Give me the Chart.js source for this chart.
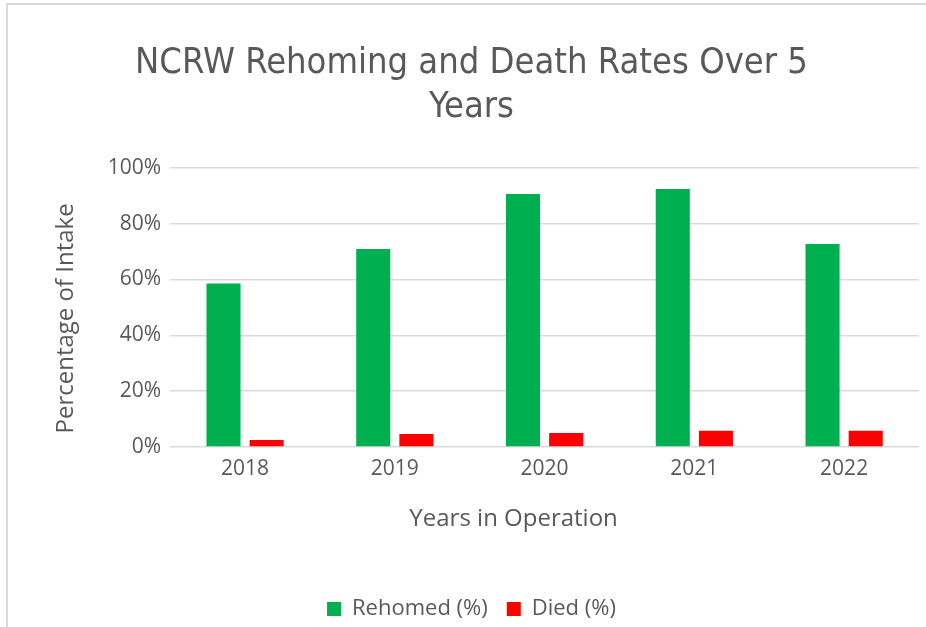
<!DOCTYPE html>
<html>
<head>
<meta charset="utf-8">
<script src="https://cdn.jsdelivr.net/npm/chart.js@4.4.1/dist/chart.umd.min.js"></script>
<style>
  html, body { margin: 0; padding: 0; background: #fff; overflow: hidden; }
  #wrap { position: relative; width: 926px; height: 627px; overflow: hidden; }
  canvas { display: block; }
</style>
</head>
<body>
<div id="wrap"><canvas id="c" width="926" height="630"></canvas></div>
<script>
const years = ['2018', '2019', '2020', '2021', '2022'];
const rehomed = [58.6, 70.9, 90.6, 92.4, 72.7];
const died = [2.5, 4.7, 5.0, 5.8, 5.8];
const titleLines = ['NCRW Rehoming and Death Rates Over 5', 'Years'];
const xAxisTitle = 'Years in Operation';
const yAxisTitle = 'Percentage of Intake';

const textColor = '#595959';
const gridColor = '#d9d9d9';
const uiFont = '"Open Sans", "Liberation Sans", Arial, sans-serif';

const frame = {
  id: 'frame',
  beforeDraw(chart) {
    const ctx = chart.ctx;
    ctx.save();
    ctx.fillStyle = '#fff';
    ctx.fillRect(0, 0, chart.width, chart.height);
    ctx.strokeStyle = '#d9d9d9';
    ctx.lineWidth = 2;
    ctx.beginPath();
    ctx.moveTo(7, chart.height);
    ctx.lineTo(7, 4);
    ctx.lineTo(chart.width, 4);
    ctx.stroke();
    ctx.restore();
  }
};

// Draw axis titles with Excel-like offsets (space is reserved by the scale titles).
const axisTitles = {
  id: 'axisTitles',
  afterDraw(chart) {
    const { ctx, chartArea: a, scales } = chart;
    ctx.save();
    ctx.fillStyle = textColor;
    ctx.font = '24px ' + uiFont;
    ctx.textAlign = 'center';
    ctx.textBaseline = 'middle';
    ctx.fillText(xAxisTitle, (a.left + a.right) / 2 - 31, scales.x.bottom - 45 - 14.4);
    ctx.translate(scales.y.left + 28 + 14.4, (a.top + a.bottom) / 2 + 11);
    ctx.rotate(-Math.PI / 2);
    ctx.fillText(yAxisTitle, 0, 0);
    ctx.restore();
  }
};

new Chart(document.getElementById('c'), {
  type: 'bar',
  data: {
    labels: years,
    datasets: [
      { label: 'Rehomed (%)', data: rehomed, backgroundColor: '#00b050' },
      { label: 'Died (%)', data: died, backgroundColor: '#ff0000' }
    ]
  },
  options: {
    responsive: false,
    animation: false,
    devicePixelRatio: 1,
    categoryPercentage: 0.576,
    barPercentage: 0.79,
    layout: { padding: { left: 24, right: 7, top: 42, bottom: 0 } },
    plugins: {
      title: {
        display: true,
        text: titleLines,
        color: textColor,
        font: { family: '"Liberation Sans Narrow", "DejaVu Sans Condensed", sans-serif', size: 36, weight: 'normal', lineHeight: 1.22 },
        padding: { top: 0, bottom: 38 }
      },
      legend: {
        position: 'bottom',
        labels: {
          color: textColor,
          font: { family: uiFont, size: 22 },
          boxWidth: 14,
          boxHeight: 14,
          padding: 19
        }
      },
      tooltip: { enabled: false }
    },
    scales: {
      x: {
        grid: { display: false, drawTicks: false },
        border: { display: false },
        ticks: {
          color: textColor,
          font: { family: uiFont, size: 21 },
          padding: 9
        },
        title: {
          display: true,
          text: xAxisTitle,
          color: 'rgba(0,0,0,0)',
          font: { family: uiFont, size: 24 },
          padding: { top: 15, bottom: 45 }
        }
      },
      y: {
        min: 0,
        max: 100,
        grid: { color: gridColor, lineWidth: 1.5, drawTicks: false },
        border: { display: false },
        ticks: {
          stepSize: 10,
          color: textColor,
          font: { family: uiFont, size: 21 },
          padding: 9,
          callback: (v) => (v % 20 === 0 ? v + '%' : '')
        },
        title: {
          display: true,
          text: yAxisTitle,
          color: 'rgba(0,0,0,0)',
          font: { family: uiFont, size: 24 },
          padding: { top: 29, bottom: 17 }
        }
      }
    }
  },
  plugins: [frame, axisTitles]
});
</script>
</body>
</html>
